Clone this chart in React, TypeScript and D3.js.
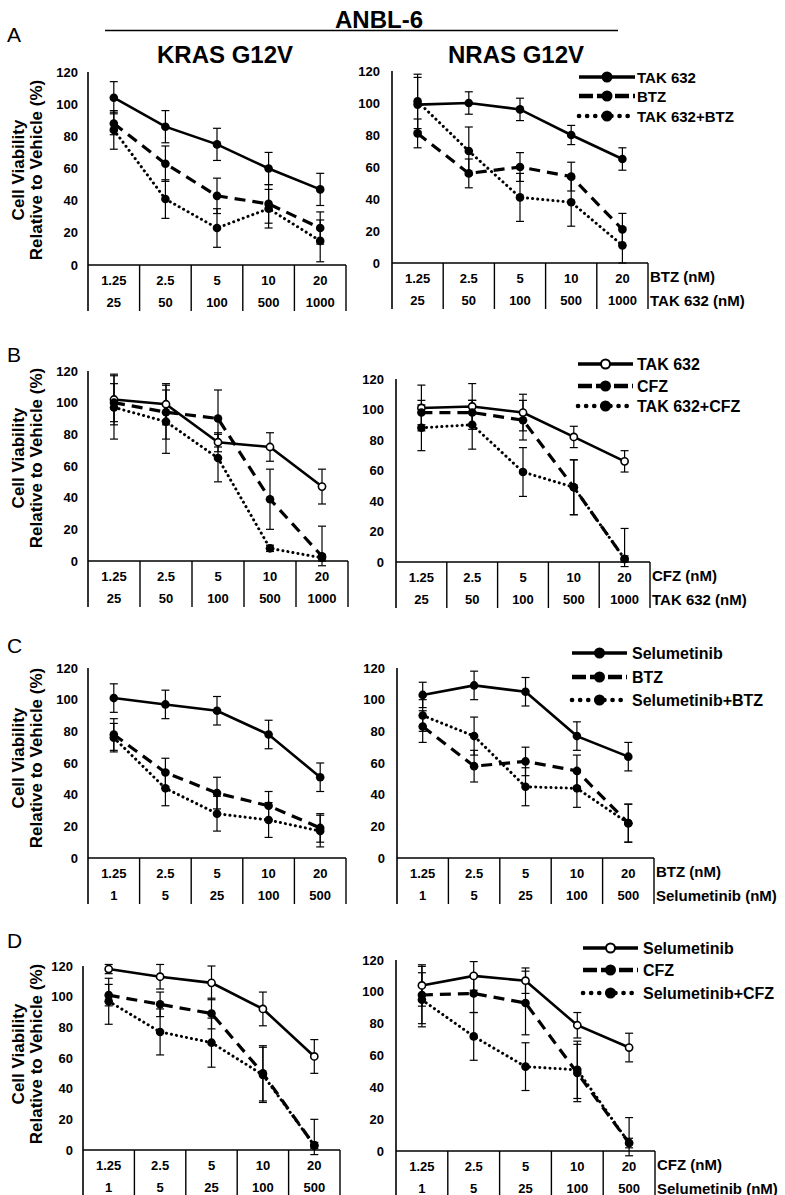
import React from 'react';
import * as d3 from 'd3';

// dose rows shown under each plot
const doseTop = ['1.25', '2.5', '5', '10', '20'];
const takDoses = ['25', '50', '100', '500', '1000'];
const selDoses = ['1', '5', '25', '100', '500'];
const yTicks = [0, 20, 40, 60, 80, 100, 120];

// A: TAK 632 / BTZ
const A_KRAS_TAK = [104, 86, 75, 60, 47];
const A_KRAS_TAK_SD = [10, 10, 10, 10, 10];
const A_KRAS_BTZ = [88, 63, 43, 38, 23];
const A_KRAS_BTZ_SD = [7, 11, 11, 12, 10];
const A_KRAS_COMBO = [84, 41, 23, 35, 15];
const A_KRAS_COMBO_SD = [12, 12, 12, 12, 13];

const A_NRAS_TAK = [99, 100, 96, 80, 65];
const A_NRAS_TAK_SD = [17, 7, 7, 6, 7];
const A_NRAS_BTZ = [81, 56, 60, 54, 21];
const A_NRAS_BTZ_SD = [9, 9, 9, 9, 10];
const A_NRAS_COMBO = [101, 70, 41, 38, 11];
const A_NRAS_COMBO_SD = [17, 15, 15, 15, 11];

// B: TAK 632 / CFZ
const B_KRAS_TAK = [102, 99, 75, 72, 47];
const B_KRAS_TAK_SD = [16, 13, 6, 9, 11];
const B_KRAS_CFZ = [100, 94, 90, 39, 3];
const B_KRAS_CFZ_SD = [12, 17, 18, 19, 19];
const B_KRAS_COMBO = [97, 88, 65, 8, 2];
const B_KRAS_COMBO_SD = [20, 20, 15, 2, 2];

const B_NRAS_TAK = [101, 102, 98, 82, 66];
const B_NRAS_TAK_SD = [15, 15, 12, 7, 7];
const B_NRAS_CFZ = [98, 98, 93, 49, 2];
const B_NRAS_CFZ_SD = [8, 8, 13, 18, 20];
const B_NRAS_COMBO = [88, 90, 59, 49, 2];
const B_NRAS_COMBO_SD = [15, 16, 16, 18, 2];

// C: Selumetinib / BTZ
const C_KRAS_SEL = [101, 97, 93, 78, 51];
const C_KRAS_SEL_SD = [9, 9, 9, 9, 9];
const C_KRAS_BTZ = [78, 54, 41, 33, 19];
const C_KRAS_BTZ_SD = [10, 9, 10, 9, 9];
const C_KRAS_COMBO = [76, 44, 28, 24, 17];
const C_KRAS_COMBO_SD = [9, 11, 11, 11, 10];

const C_NRAS_SEL = [103, 109, 105, 77, 64];
const C_NRAS_SEL_SD = [8, 9, 9, 9, 9];
const C_NRAS_BTZ = [83, 58, 61, 55, 22];
const C_NRAS_BTZ_SD = [10, 10, 9, 10, 12];
const C_NRAS_COMBO = [90, 77, 45, 44, 22];
const C_NRAS_COMBO_SD = [10, 12, 12, 12, 12];

// D: Selumetinib / CFZ
const D_KRAS_SEL = [118, 113, 109, 92, 61];
const D_KRAS_SEL_SD = [3, 8, 11, 11, 11];
const D_KRAS_CFZ = [101, 95, 89, 50, 3];
const D_KRAS_CFZ_SD = [7, 8, 10, 18, 17];
const D_KRAS_COMBO = [97, 77, 70, 49, 3];
const D_KRAS_COMBO_SD = [15, 15, 16, 18, 2];

const D_NRAS_SEL = [104, 110, 107, 79, 65];
const D_NRAS_SEL_SD = [13, 9, 8, 8, 9];
const D_NRAS_CFZ = [98, 99, 93, 49, 5];
const D_NRAS_CFZ_SD = [18, 12, 20, 18, 16];
const D_NRAS_COMBO = [95, 72, 53, 51, 5];
const D_NRAS_COMBO_SD = [17, 15, 15, 18, 3];

const FONT = '"Liberation Sans", Arial, sans-serif';

const STYLES: any = {
  solid: { width: 2.6, dash: null, cap: 'butt' },
  dashed: { width: 3.2, dash: '11 7', cap: 'butt' },
  dotted: { width: 3, dash: '0.1 5', cap: 'round' },
};

const mk = (name, style, values, sd, open = false) => ({ name, style, values, sd, open });

const panels = [
  {
    x0: 88, x1: 346, top: 72, zero: 265, gap: 10, row2: takDoses,
    series: [
      mk('TAK 632', 'solid', A_KRAS_TAK, A_KRAS_TAK_SD),
      mk('BTZ', 'dashed', A_KRAS_BTZ, A_KRAS_BTZ_SD),
      mk('TAK 632+BTZ', 'dotted', A_KRAS_COMBO, A_KRAS_COMBO_SD),
    ],
  },
  {
    x0: 392, x1: 648, top: 71, zero: 263, gap: 12, row2: takDoses,
    labels: ['BTZ (nM)', 'TAK 632 (nM)'],
    legend: { x1: 579, x2: 635, tx: 637, ys: [77, 96, 116], size: 15 },
    series: [
      mk('TAK 632', 'solid', A_NRAS_TAK, A_NRAS_TAK_SD),
      mk('BTZ', 'dashed', A_NRAS_BTZ, A_NRAS_BTZ_SD),
      mk('TAK 632+BTZ', 'dotted', A_NRAS_COMBO, A_NRAS_COMBO_SD),
    ],
  },
  {
    x0: 88, x1: 348, top: 371, zero: 561, gap: 10, row2: takDoses,
    series: [
      mk('TAK 632', 'solid', B_KRAS_TAK, B_KRAS_TAK_SD, true),
      mk('CFZ', 'dashed', B_KRAS_CFZ, B_KRAS_CFZ_SD),
      mk('TAK 632+CFZ', 'dotted', B_KRAS_COMBO, B_KRAS_COMBO_SD),
    ],
  },
  {
    x0: 396, x1: 650, top: 379, zero: 562, gap: 12, row2: takDoses,
    labels: ['CFZ (nM)', 'TAK 632 (nM)'],
    legend: { x1: 578, x2: 633, tx: 637, ys: [364, 386, 406], size: 16 },
    series: [
      mk('TAK 632', 'solid', B_NRAS_TAK, B_NRAS_TAK_SD, true),
      mk('CFZ', 'dashed', B_NRAS_CFZ, B_NRAS_CFZ_SD),
      mk('TAK 632+CFZ', 'dotted', B_NRAS_COMBO, B_NRAS_COMBO_SD),
    ],
  },
  {
    x0: 88, x1: 346, top: 668, zero: 858, gap: 10, row2: selDoses,
    series: [
      mk('Selumetinib', 'solid', C_KRAS_SEL, C_KRAS_SEL_SD),
      mk('BTZ', 'dashed', C_KRAS_BTZ, C_KRAS_BTZ_SD),
      mk('Selumetinib+BTZ', 'dotted', C_KRAS_COMBO, C_KRAS_COMBO_SD),
    ],
  },
  {
    x0: 397, x1: 654, top: 668, zero: 858, gap: 12, row2: selDoses,
    labels: ['BTZ (nM)', 'Selumetinib (nM)'],
    legend: { x1: 572, x2: 627, tx: 632, ys: [653, 677, 700], size: 16 },
    series: [
      mk('Selumetinib', 'solid', C_NRAS_SEL, C_NRAS_SEL_SD),
      mk('BTZ', 'dashed', C_NRAS_BTZ, C_NRAS_BTZ_SD),
      mk('Selumetinib+BTZ', 'dotted', C_NRAS_COMBO, C_NRAS_COMBO_SD),
    ],
  },
  {
    x0: 83, x1: 340, top: 966, zero: 1150, gap: 10, row2: selDoses,
    series: [
      mk('Selumetinib', 'solid', D_KRAS_SEL, D_KRAS_SEL_SD, true),
      mk('CFZ', 'dashed', D_KRAS_CFZ, D_KRAS_CFZ_SD),
      mk('Selumetinib+CFZ', 'dotted', D_KRAS_COMBO, D_KRAS_COMBO_SD),
    ],
  },
  {
    x0: 396, x1: 655, top: 960, zero: 1151, gap: 12, row2: selDoses,
    labels: ['CFZ (nM)', 'Selumetinib (nM)'],
    legend: { x1: 583, x2: 638, tx: 643, ys: [948, 970, 993], size: 16 },
    series: [
      mk('Selumetinib', 'solid', D_NRAS_SEL, D_NRAS_SEL_SD, true),
      mk('CFZ', 'dashed', D_NRAS_CFZ, D_NRAS_CFZ_SD),
      mk('Selumetinib+CFZ', 'dotted', D_NRAS_COMBO, D_NRAS_COMBO_SD),
    ],
  },
];

// panel letters and y-label centres
const rowsMeta = [
  { letter: 'A', ly: 42, labelY: 170 },
  { letter: 'B', ly: 362, labelY: 458 },
  { letter: 'C', ly: 653, labelY: 758 },
  { letter: 'D', ly: 948, labelY: 1054 },
];

function Panel({ p }) {
  const x = d3.scaleBand().domain(doseTop).range([p.x0, p.x1]);
  const y = d3.scaleLinear().domain([0, 120]).range([p.zero, p.top]);
  const cx = (i) => (x(doseTop[i]) as number) + x.bandwidth() / 2;
  const line = d3.line<number>().x((d, i) => cx(i)).y((d) => y(d));
  const tableBottom = y(0) + 46;

  return (
    <g>
      {/* y axis + table borders */}
      <line x1={p.x0} x2={p.x0} y1={y(120)} y2={tableBottom} stroke="#000" strokeWidth={1.6} />
      <line x1={p.x0} x2={p.x1} y1={y(0)} y2={y(0)} stroke="#000" strokeWidth={1.6} />
      {doseTop.map((c, i) => {
        const bx = i === 0 ? p.x1 : (x(c) as number);
        return <line key={c} x1={bx} x2={bx} y1={y(0)} y2={tableBottom} stroke="#000" strokeWidth={1.4} />;
      })}
      {yTicks.map((t) => (
        <text key={t} x={p.x0 - p.gap} y={y(t)} textAnchor="end" dominantBaseline="central"
          fontSize={13} fontWeight="bold">{t}</text>
      ))}
      {doseTop.map((c, i) => (
        <text key={'r1' + c} x={cx(i)} y={y(0) + 15} textAnchor="middle" dominantBaseline="central"
          fontSize={13} fontWeight="bold">{c}</text>
      ))}
      {p.row2.map((c, i) => (
        <text key={'r2' + c} x={cx(i)} y={y(0) + 37} textAnchor="middle" dominantBaseline="central"
          fontSize={13} fontWeight="bold">{c}</text>
      ))}
      {p.labels && p.labels.map((l, k) => (
        <text key={l} x={p.x1 + 2} y={y(0) + 13 + k * 24} dominantBaseline="central"
          fontSize={15} fontWeight="bold">{l}</text>
      ))}

      {/* error bars */}
      {p.series.map((s) => s.values.map((v, i) => {
        const hi = y(v + s.sd[i]);
        const lo = y(Math.max(v - s.sd[i], -3));
        return (
          <g key={s.name + i} stroke="#000" strokeWidth={1.2}>
            <line x1={cx(i)} x2={cx(i)} y1={hi} y2={lo} />
            <line x1={cx(i) - 4} x2={cx(i) + 4} y1={hi} y2={hi} />
            <line x1={cx(i) - 4} x2={cx(i) + 4} y1={lo} y2={lo} />
          </g>
        );
      }))}

      {/* series lines */}
      {p.series.map((s) => {
        const st = STYLES[s.style];
        return (
          <path key={s.name} d={line(s.values) as string} fill="none" stroke="#000"
            strokeWidth={st.width} strokeDasharray={st.dash || undefined} strokeLinecap={st.cap} />
        );
      })}

      {/* markers */}
      {p.series.map((s) => s.values.map((v, i) => (
        <circle key={'m' + s.name + i} cx={cx(i)} cy={y(v)} r={s.open ? 3.6 : 4.3}
          fill={s.open ? '#fff' : '#000'} stroke="#000" strokeWidth={s.open ? 1.6 : 0} />
      )))}

      {/* legend */}
      {p.legend && p.series.map((s, k) => {
        const lg = p.legend;
        const ly = lg.ys[k];
        const mid = (lg.x1 + lg.x2) / 2;
        const st = STYLES[s.style];
        return (
          <g key={'lg' + s.name}>
            <line x1={lg.x1} x2={lg.x2} y1={ly} y2={ly} stroke="#000"
              strokeWidth={s.style === 'solid' ? 3.4 : 4.6}
              strokeDasharray={s.style === 'dashed' ? '14 4' : s.style === 'dotted' ? '0.1 8' : undefined}
              strokeLinecap={st.cap} />
            <circle cx={mid} cy={ly} r={s.open ? 4.5 : 5.5} fill={s.open ? '#fff' : '#000'}
              stroke="#000" strokeWidth={s.open ? 2 : 0} />
            <text x={lg.tx} y={ly} dominantBaseline="central" fontSize={lg.size} fontWeight="bold">{s.name}</text>
          </g>
        );
      })}
    </g>
  );
}

export default function App() {
  return (
    <svg width={785} height={1195} viewBox="0 0 785 1195" fontFamily={FONT}
      style={{ position: 'absolute', left: 0, top: 0, background: '#fff', display: 'block' }}>
      <rect width={785} height={1195} fill="#fff" />
      <text x={379} y={28} textAnchor="middle" fontSize={24} fontWeight="bold">ANBL-6</text>
      <line x1={105} x2={618} y1={30.5} y2={30.5} stroke="#000" strokeWidth={1.4} />
      <text x={225} y={63} textAnchor="middle" fontSize={24} fontWeight="bold">KRAS G12V</text>
      <text x={516} y={63} textAnchor="middle" fontSize={24} fontWeight="bold">NRAS G12V</text>

      {rowsMeta.map((r) => (
        <g key={r.letter}>
          <text x={7} y={r.ly} fontSize={21}>{r.letter}</text>
          <text transform={`translate(24,${r.labelY}) rotate(-90)`} textAnchor="middle"
            fontSize={17} fontWeight="bold">Cell Viability</text>
          <text transform={`translate(42,${r.labelY}) rotate(-90)`} textAnchor="middle"
            fontSize={17} fontWeight="bold">Relative to Vehicle (%)</text>
        </g>
      ))}

      {panels.map((p, i) => <Panel key={i} p={p} />)}
    </svg>
  );
}
